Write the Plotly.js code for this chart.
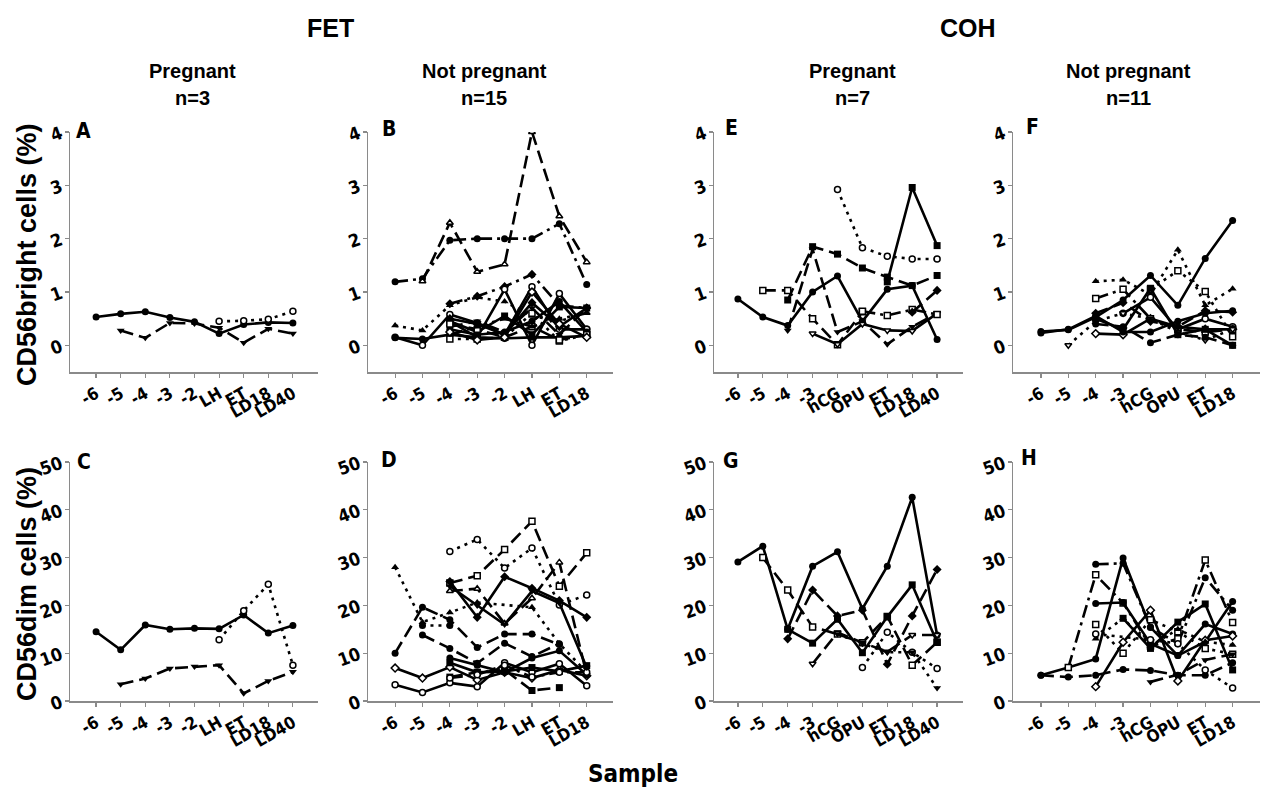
<!DOCTYPE html>
<html>
<head>
<meta charset="utf-8">
<script src="https://cdn.plot.ly/plotly-3.0.1.min.js"></script>
<style>html,body{margin:0;padding:0;background:#fff;}#chart{width:1269px;height:796px;}</style>
</head>
<body>
<div id="chart"></div>
<script>
// ---------- categories ----------
const catFET = ['-6','-5','-4','-3','-2','LH','ET','LD18','LD40'];
const catFETnp = ['-6','-5','-4','-3','-2','LH','ET','LD18'];
const catCOH = ['-6','-5','-4','-3','hCG','OPU','ET','LD18','LD40'];
const catCOHnp = ['-6','-5','-4','-3','hCG','OPU','ET','LD18'];

// ---------- values (each inner array = one patient) ----------
const valuesA = [
  [0.53,0.59,0.63,0.52,0.44,0.22,0.39,0.43,0.42],
  [null,0.28,0.14,0.42,0.41,0.33,0.05,0.31,0.22],
  [null,null,null,null,null,0.45,0.46,0.49,0.64]
];
const valuesB = [
  [1.19,1.25,1.97,2.0,2.0,2.0,2.28,1.14],
  [null,1.2,2.3,1.38,1.52,4.0,2.42,1.56],
  [null,null,0.78,0.92,1.1,1.33,0.75,0.7],
  [0.37,0.28,0.75,0.9,0.82,0.55,0.45,0.62],
  [0.15,0.0,0.58,0.42,0.2,1.1,0.3,0.3],
  [null,null,0.45,0.15,1.05,0.0,0.97,0.3],
  [0.14,0.12,0.2,0.15,0.13,0.15,0.15,0.18],
  [null,null,0.12,0.12,0.15,0.6,0.08,0.2],
  [null,null,0.5,0.4,0.2,0.8,0.35,0.7],
  [null,null,0.45,0.25,0.55,0.2,0.72,0.7],
  [null,null,0.35,0.45,0.25,0.7,0.2,0.7],
  [null,null,0.3,0.2,0.25,0.45,0.82,0.25],
  [null,null,0.4,0.3,0.15,0.35,0.1,0.2],
  [null,null,0.2,0.35,0.5,0.35,0.5,0.6],
  [null,null,0.25,0.1,0.15,1.0,0.4,0.15]
];
const valuesC = [
  [14.5,10.7,15.9,15.0,15.2,15.1,18.0,14.2,15.8],
  [null,3.5,4.7,6.8,7.2,7.5,1.6,4.2,6.1],
  [null,null,null,null,null,12.8,18.9,24.4,7.5]
];
const valuesD = [
  [28.0,16.5,18.5,20.6,null,19.6,12.0,6.0],
  [null,null,31.3,33.8,27.8,32.0,20.1,22.2],
  [null,null,24.7,26.2,31.7,37.6,24.0,31.0],
  [null,null,23.0,23.5,16.2,21.5,29.0,5.5],
  [10.0,19.6,17.0,11.2,14.0,14.0,11.8,null],
  [6.9,4.8,7.1,4.4,6.0,4.8,6.5,5.3],
  [3.4,1.8,3.8,3.0,8.0,6.0,7.8,3.2],
  [null,13.8,11.0,7.9,12.1,9.3,12.0,null],
  [null,null,25.0,17.5,26.0,23.6,21.0,17.5],
  [null,null,9.0,7.5,6.0,9.0,10.5,5.5],
  [null,null,5.0,6.0,6.5,2.2,2.8,null],
  [null,null,8.0,6.0,6.2,7.0,6.2,7.4],
  [null,15.8,15.8,null,null,null,null,null],
  [null,null,4.8,5.5,7.5,5.0,6.0,6.0],
  [null,null,24.0,20.0,16.0,23.0,20.5,7.0]
];
const valuesE = [
  [0.87,0.53,0.37,1.0,1.3,0.45,1.05,1.12,0.11],
  [null,null,0.85,1.85,1.71,1.45,1.28,1.12,1.31],
  [null,null,null,null,2.92,1.83,1.67,1.62,1.62],
  [null,1.03,1.03,0.5,0.01,0.63,null,null,null],
  [null,null,null,null,null,null,1.19,2.96,1.87],
  [null,null,0.28,1.8,0.25,0.45,0.02,0.35,0.6],
  [null,null,null,0.22,0.02,0.4,0.28,0.27,0.6],
  [null,null,null,null,null,0.64,0.56,0.67,0.58],
  [null,null,null,null,null,null,null,0.62,1.03]
];
const valuesF = [
  [0.26,0.29,0.53,0.85,1.31,0.75,1.63,2.34],
  [null,null,1.2,1.23,0.95,1.79,0.75,1.06],
  [null,null,null,null,1.05,1.4,1.01,0.16],
  [null,null,null,0.6,0.9,0.3,0.5,0.35],
  [null,null,0.22,0.2,0.5,0.35,0.3,0.3],
  [null,null,0.88,1.05,0.5,0.3,0.25,0.3],
  [0.23,0.3,0.55,0.25,0.25,0.45,0.6,0.65],
  [null,0.0,0.45,0.6,0.5,0.25,0.1,0.3],
  [null,null,0.5,0.3,1.07,0.2,0.3,0.0],
  [null,null,0.4,0.35,0.05,0.2,0.15,0.0],
  [null,null,0.6,0.8,0.45,0.35,0.65,0.62]
];
const valuesG = [
  [29.1,32.4,15.0,28.2,31.2,19.3,28.2,42.6,13.8],
  [null,30.0,23.2,15.5,14.0,12.2,17.7,7.5,12.3],
  [null,null,15.0,12.1,17.1,10.1,17.6,24.3,12.3],
  [null,null,13.0,23.2,17.8,19.0,7.7,17.8,27.5],
  [null,null,null,7.8,14.3,12.2,10.3,13.8,13.8],
  [null,null,null,null,null,7.0,14.4,10.2,6.8],
  [null,null,null,null,14.0,12.0,10.2,10.2,2.7]
];
const valuesH = [
  [5.4,7.0,8.8,29.9,15.4,9.5,16.1,14.0],
  [null,null,28.6,28.8,15.5,12.0,25.8,19.0],
  [5.4,5.0,5.4,6.6,6.4,5.4,5.4,8.0],
  [null,7.0,26.4,20.5,11.5,13.0,29.5,16.4],
  [null,null,20.4,20.6,12.0,9.5,12.4,20.8],
  [null,null,3.0,12.3,19.0,4.2,12.7,13.6],
  [null,null,16.0,10.0,17.0,14.5,11.0,9.8],
  [null,null,13.0,17.3,11.5,15.0,12.4,11.7],
  [null,null,null,null,4.0,5.5,8.6,9.8],
  [null,null,14.0,null,12.8,12.0,6.5,2.7],
  [null,null,null,17.3,11.0,16.5,20.3,6.5]
];

// ---------- styles (line dash | marker) ----------
const stylesA = ['solid|circle','dash|triangle-down','dot|circle-o'];
const stylesC = stylesA;
const stylesB = ['dashdot|circle','dash|triangle-up-o','dashdot|diamond','dot|triangle-up','solid|circle-o','solid|circle-o','solid|circle','dot|square-o','solid|diamond','solid|square','dash|triangle-down','solid|circle','dash|square-o','dashdot|triangle-up','solid|diamond-o'];
const stylesD = ['dot|triangle-up','dot|circle-o','dash|square-o','dash|triangle-up-o','dash|circle','solid|diamond-o','solid|circle-o','dash|circle','solid|diamond','solid|circle','dash|square','solid|square','dot|circle','dashdot|circle-o','solid|triangle-down'];
const stylesE = ['solid|circle','dash|square','dot|circle-o','dash|square-o','solid|square','dash|triangle-down','solid|triangle-down-o','dashdot|square-o','dash|diamond'];
const stylesF = ['solid|circle','dot|triangle-up','dot|square-o','solid|circle-o','solid|diamond-o','dashdot|square-o','solid|circle','dot|triangle-down-o','solid|square','dash|circle','dash|diamond'];
const stylesG = ['solid|circle','dash|square-o','solid|square','dash|diamond','dash|triangle-down-o','dot|circle-o','dot|triangle-down'];
const stylesH = ['solid|circle','dashdot|circle','dash|circle','dashdot|square-o','solid|circle','solid|diamond-o','dot|square-o','dot|triangle-up','dash|triangle-down','dot|circle-o','solid|square'];

const W = 1269, H = 796;
const dashMap = {solid:'solid', dot:'3px,5px', dash:'13px,6px', dashdot:'13px,5px,3px,5px'};
const FONT = '"Liberation Sans Narrow", "Arial Narrow", "DejaVu Sans Condensed", "Liberation Sans", Arial, sans-serif';
const FONTW = '"Liberation Sans", Arial, sans-serif';

const colX = [[70,318],[368,613],[714,963],[1013,1260]];
const rowY = [[132,372],[462,701]];
const xRanges = [[-1.06,9.02],[-0.99,7.96],[-0.96,9.04],[-1.02,8.0]];

const panels = [
  {vals:valuesA, sty:stylesA, cats:catFET,   col:0, row:0, letter:'A'},
  {vals:valuesB, sty:stylesB, cats:catFETnp, col:1, row:0, letter:'B'},
  {vals:valuesE, sty:stylesE, cats:catCOH,   col:2, row:0, letter:'E'},
  {vals:valuesF, sty:stylesF, cats:catCOHnp, col:3, row:0, letter:'F'},
  {vals:valuesC, sty:stylesC, cats:catFET,   col:0, row:1, letter:'C'},
  {vals:valuesD, sty:stylesD, cats:catFETnp, col:1, row:1, letter:'D'},
  {vals:valuesG, sty:stylesG, cats:catCOH,   col:2, row:1, letter:'G'},
  {vals:valuesH, sty:stylesH, cats:catCOHnp, col:3, row:1, letter:'H'}
];

const fx = px => px / W;
const fy = py => 1 - py / H;

const traces = [];
const layout = {
  width: W, height: H,
  margin: {l:0, r:0, t:0, b:0},
  paper_bgcolor: '#fff', plot_bgcolor: '#fff',
  showlegend: false,
  annotations: []
};

panels.forEach((p, i) => {
  const n = i + 1;
  const xa = 'x' + (n === 1 ? '' : n), ya = 'y' + (n === 1 ? '' : n);
  const xk = 'xaxis' + (n === 1 ? '' : n), yk = 'yaxis' + (n === 1 ? '' : n);
  p.vals.forEach((v, k) => {
    const [d, s] = p.sty[k].split('|');
    const open = s.endsWith('-o');
    const sym = open ? s.slice(0, -2) : s;
    traces.push({
      type: 'scatter', mode: 'lines+markers',
      x: p.cats.slice(0, v.length), y: v,
      xaxis: xa, yaxis: ya, connectgaps: true,
      line: {color: '#000', width: 2.6, dash: dashMap[d]},
      marker: {symbol: sym, size: open ? 6 : 7, color: open ? '#fff' : '#000',
               line: {color: '#000', width: open ? 1.5 : 0}},
      hoverinfo: 'skip'
    });
  });
  const top = p.row === 0;
  layout[xk] = {
    domain: [fx(colX[p.col][0]), fx(colX[p.col][1])],
    anchor: ya, type: 'category', categoryarray: p.cats,
    range: xRanges[p.col], showgrid: false, zeroline: false,
    showline: true, linecolor: '#8a8a8a', linewidth: 1.5,
    ticks: 'outside', ticklen: 4, tickcolor: '#8a8a8a', tickwidth: 1.2,
    tickangle: -30, fixedrange: true,
    tickfont: {family: FONT, size: 17, color: '#000', weight: 'bold'}
  };
  layout[yk] = {
    domain: [fy(rowY[p.row][1]), fy(rowY[p.row][0])],
    anchor: xa, range: top ? [-0.5, 4] : [0, 50],
    tickvals: top ? [0,1,2,3,4] : [0,10,20,30,40,50],
    showgrid: false, zeroline: false,
    showline: true, linecolor: '#8a8a8a', linewidth: 1.5,
    ticks: 'outside', ticklen: 4, tickcolor: '#8a8a8a', tickwidth: 1.2,
    tickangle: -20, fixedrange: true,
    tickfont: {family: FONT, size: 18, color: '#000', weight: 'bold'}
  };
});

function ann(text, px, py, size, family, extra) {
  layout.annotations.push(Object.assign({
    text: text, x: fx(px), y: fy(py), xref: 'paper', yref: 'paper',
    showarrow: false, xanchor: 'center', yanchor: 'middle',
    font: {family: family, size: size, color: '#000', weight: 'bold'}
  }, extra || {}));
}

// group titles
ann('FET', 330, 28, 25, FONTW);
ann('COH', 968, 28, 25, FONTW);
// subgroup titles
ann('Pregnant', 192, 71, 20, FONTW);
ann('n=3', 192, 98, 20, FONTW);
ann('Not pregnant', 484, 71, 20, FONTW);
ann('n=15', 484, 98, 20, FONTW);
ann('Pregnant', 852, 71, 20, FONTW);
ann('n=7', 852, 98, 20, FONTW);
ann('Not pregnant', 1128, 71, 20, FONTW);
ann('n=11', 1128, 98, 20, FONTW);
// panel letters
const letterPos = {A:[83,131],B:[389,129],E:[731,128],F:[1032,127],C:[84,462],D:[389,460],G:[731,461],H:[1029,458]};
panels.forEach(p => { const q = letterPos[p.letter]; ann(p.letter, q[0], q[1], 21, FONT); });
// axis titles
ann('CD56bright cells (%)', 27, 255, 27, FONTW, {textangle: -90});
ann('CD56dim cells (%)', 27, 584, 27, FONTW, {textangle: -90});
ann('Sample', 633, 774, 24, FONT);

Plotly.newPlot('chart', traces, layout, {staticPlot: true, displayModeBar: false});
</script>
</body>
</html>
